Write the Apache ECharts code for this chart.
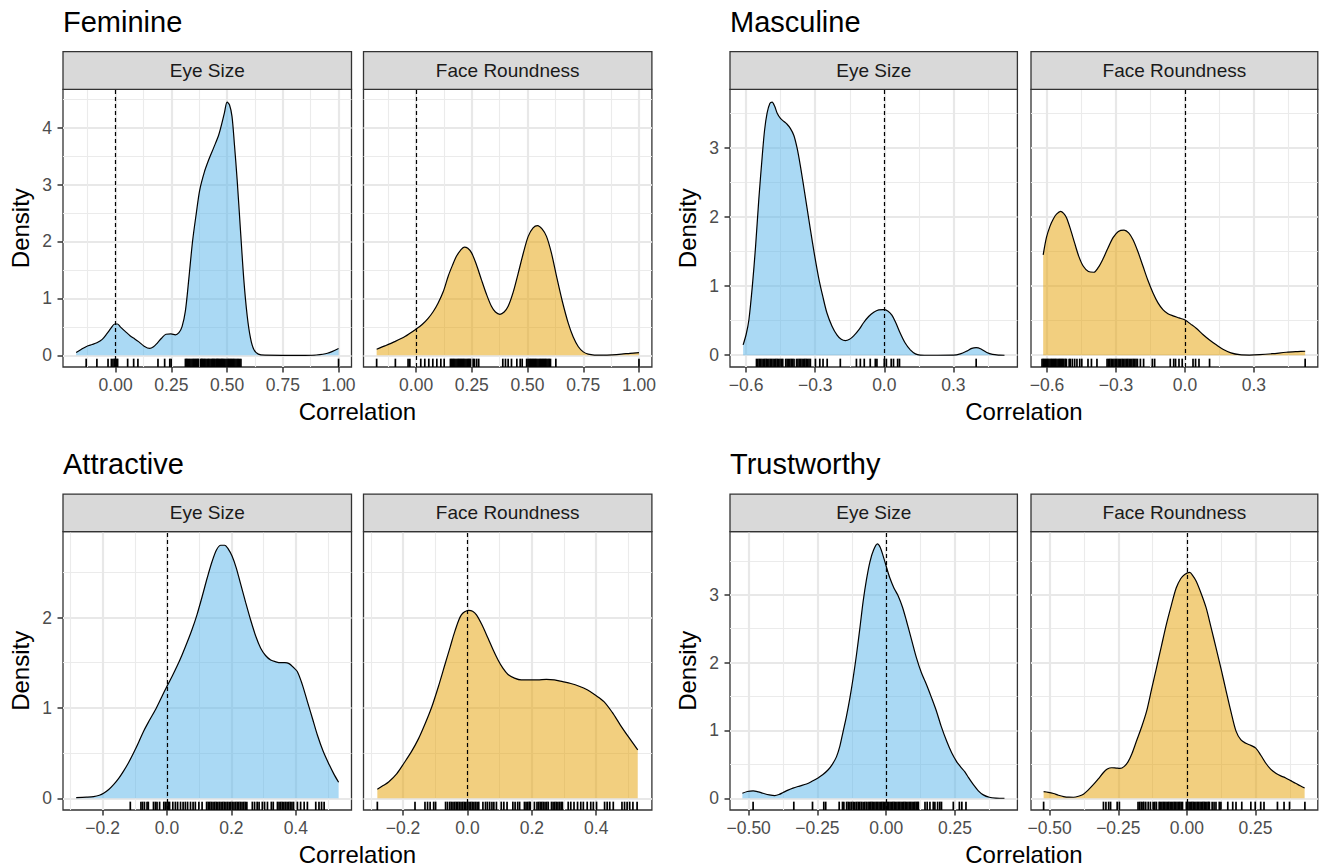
<!DOCTYPE html>
<html><head><meta charset="utf-8">
<script src="https://cdn.jsdelivr.net/npm/echarts@6/dist/echarts.min.js"></script>
<style>html,body{margin:0;padding:0;background:#fff}#c{width:1322px;height:867px}</style>
</head><body><div id="c"></div>
<script>
// ---------------- DATA ----------------
const traits = ['Feminine', 'Masculine', 'Attractive', 'Trustworthy'];
const facets = ['Eye Size', 'Face Roundness'];

// density curves [correlation, density]
const feminineEyeSizeCurve = [[-0.177,0.047],[-0.155,0.1],[-0.129,0.16],[-0.105,0.19],[-0.084,0.22],[-0.06,0.28],[-0.039,0.38],[-0.02,0.48],[-0.004,0.55],[0.008,0.55],[0.021,0.50],[0.043,0.42],[0.066,0.34],[0.085,0.29],[0.103,0.24],[0.128,0.16],[0.153,0.12],[0.17,0.15],[0.186,0.21],[0.206,0.30],[0.226,0.37],[0.248,0.375],[0.268,0.36],[0.284,0.4],[0.298,0.505],[0.313,0.78],[0.328,1.33],[0.345,2.0],[0.362,2.5],[0.377,2.9],[0.398,3.22],[0.418,3.44],[0.44,3.65],[0.463,3.88],[0.488,4.26],[0.5,4.45],[0.511,4.4],[0.522,4.2],[0.533,3.7],[0.545,3.09],[0.56,2.2],[0.575,1.33],[0.59,0.7],[0.605,0.3],[0.62,0.1],[0.64,0.02],[0.67,0.002],[0.75,0],[0.85,0],[0.9,0.005],[0.95,0.035],[1.0,0.12]];
const feminineFaceRoundnessCurve = [[-0.177,0.106],[-0.14,0.165],[-0.096,0.24],[-0.05,0.33],[0,0.46],[0.027,0.54],[0.054,0.65],[0.077,0.77],[0.099,0.92],[0.122,1.12],[0.144,1.39],[0.163,1.58],[0.181,1.74],[0.2,1.85],[0.216,1.90],[0.232,1.88],[0.249,1.80],[0.27,1.6],[0.293,1.33],[0.315,1.08],[0.338,0.86],[0.356,0.76],[0.376,0.72],[0.395,0.76],[0.413,0.86],[0.435,1.1],[0.458,1.44],[0.48,1.78],[0.503,2.09],[0.525,2.24],[0.545,2.28],[0.565,2.22],[0.585,2.09],[0.607,1.8],[0.63,1.39],[0.656,0.95],[0.683,0.56],[0.705,0.32],[0.728,0.15],[0.75,0.06],[0.772,0.02],[0.8,0.004],[0.84,0.002],[0.88,0.008],[0.922,0.02],[0.96,0.035],[1.0,0.047]];
const masculineEyeSizeCurve = [[-0.613,0.15],[-0.6,0.3],[-0.588,0.51],[-0.573,1.0],[-0.559,1.57],[-0.545,2.25],[-0.53,2.88],[-0.52,3.25],[-0.509,3.5],[-0.497,3.64],[-0.487,3.66],[-0.476,3.6],[-0.465,3.5],[-0.45,3.42],[-0.436,3.38],[-0.422,3.34],[-0.408,3.28],[-0.393,3.18],[-0.379,3.0],[-0.365,2.75],[-0.35,2.44],[-0.335,2.12],[-0.321,1.82],[-0.303,1.45],[-0.285,1.12],[-0.267,0.85],[-0.249,0.61],[-0.227,0.42],[-0.205,0.29],[-0.187,0.23],[-0.169,0.21],[-0.151,0.23],[-0.133,0.28],[-0.11,0.37],[-0.09,0.47],[-0.068,0.56],[-0.046,0.62],[-0.024,0.655],[-0.003,0.66],[0.015,0.64],[0.033,0.58],[0.05,0.47],[0.069,0.32],[0.09,0.18],[0.113,0.077],[0.135,0.02],[0.156,0.003],[0.2,0],[0.3,0.002],[0.33,0.02],[0.358,0.06],[0.38,0.1],[0.399,0.11],[0.42,0.09],[0.445,0.04],[0.47,0.012],[0.5,0.002],[0.522,0]];
const masculineFaceRoundnessCurve = [[-0.617,1.45],[-0.603,1.7],[-0.588,1.86],[-0.573,1.97],[-0.559,2.04],[-0.541,2.08],[-0.528,2.05],[-0.516,1.99],[-0.498,1.82],[-0.48,1.62],[-0.462,1.43],[-0.443,1.29],[-0.42,1.21],[-0.397,1.2],[-0.377,1.27],[-0.357,1.39],[-0.335,1.55],[-0.313,1.7],[-0.29,1.79],[-0.265,1.81],[-0.245,1.77],[-0.226,1.67],[-0.205,1.5],[-0.183,1.29],[-0.161,1.08],[-0.139,0.9],[-0.118,0.76],[-0.096,0.66],[-0.074,0.6],[-0.052,0.57],[-0.026,0.54],[0,0.51],[0.025,0.45],[0.049,0.39],[0.078,0.3],[0.107,0.22],[0.136,0.15],[0.165,0.087],[0.2,0.035],[0.238,0.008],[0.28,0.003],[0.325,0.008],[0.38,0.022],[0.441,0.043],[0.49,0.053],[0.523,0.058]];
const attractiveEyeSizeCurve = [[-0.282,0.007],[-0.25,0.012],[-0.228,0.018],[-0.21,0.033],[-0.197,0.055],[-0.18,0.1],[-0.166,0.15],[-0.15,0.22],[-0.135,0.30],[-0.12,0.39],[-0.104,0.50],[-0.088,0.62],[-0.073,0.74],[-0.055,0.86],[-0.036,0.98],[-0.018,1.11],[0,1.24],[0.016,1.35],[0.031,1.46],[0.046,1.58],[0.062,1.72],[0.078,1.87],[0.093,2.03],[0.109,2.23],[0.125,2.44],[0.14,2.62],[0.154,2.75],[0.167,2.8],[0.179,2.8],[0.19,2.76],[0.202,2.68],[0.215,2.55],[0.228,2.38],[0.244,2.17],[0.26,1.97],[0.276,1.79],[0.291,1.66],[0.306,1.58],[0.322,1.53],[0.338,1.51],[0.353,1.5],[0.366,1.5],[0.379,1.49],[0.392,1.45],[0.405,1.40],[0.42,1.26],[0.436,1.07],[0.452,0.88],[0.467,0.70],[0.485,0.52],[0.504,0.37],[0.518,0.27],[0.533,0.177]];
const attractiveFaceRoundnessCurve = [[-0.28,0.10],[-0.262,0.14],[-0.245,0.18],[-0.22,0.27],[-0.197,0.39],[-0.175,0.51],[-0.152,0.66],[-0.131,0.83],[-0.111,1.01],[-0.09,1.24],[-0.07,1.48],[-0.054,1.67],[-0.039,1.85],[-0.019,2.03],[0.004,2.08],[0.016,2.07],[0.028,2.03],[0.045,1.92],[0.064,1.77],[0.08,1.64],[0.095,1.53],[0.11,1.44],[0.126,1.37],[0.146,1.33],[0.167,1.31],[0.19,1.31],[0.218,1.31],[0.245,1.315],[0.27,1.31],[0.296,1.29],[0.321,1.27],[0.347,1.24],[0.372,1.20],[0.398,1.14],[0.424,1.07],[0.45,0.95],[0.475,0.81],[0.502,0.67],[0.529,0.535]];
const trustworthyEyeSizeCurve = [[-0.523,0.074],[-0.505,0.1],[-0.484,0.11],[-0.465,0.095],[-0.448,0.074],[-0.425,0.05],[-0.405,0.04],[-0.39,0.055],[-0.375,0.084],[-0.357,0.12],[-0.339,0.15],[-0.315,0.18],[-0.29,0.21],[-0.27,0.25],[-0.248,0.30],[-0.23,0.35],[-0.211,0.42],[-0.196,0.5],[-0.181,0.61],[-0.169,0.76],[-0.157,0.98],[-0.145,1.2],[-0.132,1.48],[-0.12,1.78],[-0.108,2.12],[-0.096,2.5],[-0.084,2.90],[-0.072,3.22],[-0.059,3.49],[-0.046,3.66],[-0.032,3.75],[-0.022,3.7],[-0.011,3.57],[0.0,3.42],[0.013,3.25],[0.028,3.1],[0.044,2.98],[0.059,2.82],[0.074,2.61],[0.092,2.34],[0.11,2.07],[0.128,1.85],[0.147,1.67],[0.165,1.48],[0.183,1.28],[0.2,1.06],[0.22,0.84],[0.238,0.67],[0.256,0.54],[0.271,0.46],[0.286,0.39],[0.3,0.3],[0.317,0.20],[0.335,0.11],[0.353,0.05],[0.375,0.015],[0.4,0.003],[0.43,0]];
const trustworthyFaceRoundnessCurve = [[-0.522,0.098],[-0.505,0.088],[-0.486,0.07],[-0.468,0.045],[-0.449,0.025],[-0.43,0.016],[-0.413,0.015],[-0.395,0.03],[-0.377,0.06],[-0.36,0.12],[-0.341,0.20],[-0.322,0.29],[-0.304,0.38],[-0.29,0.43],[-0.274,0.45],[-0.258,0.445],[-0.244,0.44],[-0.228,0.47],[-0.214,0.54],[-0.2,0.66],[-0.184,0.84],[-0.165,1.05],[-0.147,1.28],[-0.129,1.6],[-0.111,1.92],[-0.093,2.24],[-0.075,2.56],[-0.057,2.84],[-0.039,3.10],[-0.022,3.24],[-0.008,3.30],[0.01,3.33],[0.022,3.28],[0.034,3.20],[0.052,3.02],[0.07,2.81],[0.088,2.52],[0.106,2.22],[0.125,1.9],[0.143,1.58],[0.161,1.27],[0.179,0.99],[0.197,0.86],[0.215,0.81],[0.233,0.78],[0.251,0.74],[0.27,0.63],[0.287,0.52],[0.305,0.43],[0.324,0.37],[0.342,0.33],[0.36,0.30],[0.378,0.26],[0.396,0.22],[0.413,0.185],[0.429,0.15]];

// rug (individual correlations)
const feminineEyeSizeRug = [-0.132,-0.084,-0.034,-0.019,-0.012,-0.006,-0.002,0.004,0.009,0.054,0.081,0.100,0.190,0.220,0.243,0.249,0.313,0.318,0.322,0.328,0.333,0.338,0.343,0.348,0.353,0.358,0.363,0.368,0.372,0.382,0.386,0.39,0.395,0.40,0.405,0.41,0.414,0.418,0.423,0.428,0.432,0.436,0.44,0.445,0.45,0.454,0.458,0.462,0.467,0.472,0.476,0.48,0.485,0.49,0.495,0.50,0.505,0.51,0.515,0.52,0.525,0.53,0.535,0.54,0.545,0.55,0.556,0.562,1.0];
const feminineFaceRoundnessRug = [-0.177,-0.093,-0.036,-0.028,0.021,0.039,0.057,0.075,0.093,0.111,0.126,0.154,0.159,0.164,0.169,0.174,0.179,0.184,0.189,0.194,0.199,0.204,0.209,0.214,0.219,0.224,0.229,0.234,0.239,0.244,0.256,0.262,0.272,0.281,0.389,0.401,0.413,0.428,0.452,0.467,0.476,0.496,0.502,0.507,0.512,0.517,0.522,0.527,0.532,0.537,0.542,0.547,0.552,0.557,0.562,0.567,0.572,0.577,0.582,0.587,0.592,0.597,0.603,0.627,1.0];
const masculineEyeSizeRug = [-0.555,-0.549,-0.543,-0.537,-0.531,-0.525,-0.519,-0.513,-0.507,-0.501,-0.495,-0.489,-0.483,-0.477,-0.471,-0.465,-0.459,-0.453,-0.447,-0.441,-0.428,-0.422,-0.416,-0.410,-0.404,-0.398,-0.392,-0.381,-0.375,-0.369,-0.363,-0.357,-0.351,-0.345,-0.339,-0.333,-0.327,-0.321,-0.299,-0.28,-0.266,-0.248,-0.191,-0.121,-0.104,-0.087,-0.061,-0.039,-0.032,0.0,0.009,0.03,0.04,0.058,0.066,0.399];
const masculineFaceRoundnessRug = [-0.622,-0.617,-0.612,-0.607,-0.602,-0.597,-0.592,-0.587,-0.582,-0.577,-0.572,-0.567,-0.562,-0.557,-0.552,-0.547,-0.542,-0.537,-0.532,-0.527,-0.521,-0.516,-0.504,-0.499,-0.49,-0.48,-0.47,-0.458,-0.449,-0.422,-0.407,-0.383,-0.339,-0.333,-0.327,-0.321,-0.315,-0.309,-0.303,-0.297,-0.291,-0.285,-0.279,-0.273,-0.267,-0.261,-0.255,-0.249,-0.243,-0.237,-0.231,-0.225,-0.219,-0.213,-0.207,-0.194,-0.18,-0.142,-0.132,-0.064,-0.049,-0.041,-0.026,-0.012,0.035,0.046,0.061,0.107,0.523];
const attractiveEyeSizeRug = [-0.114,-0.081,-0.076,-0.07,-0.062,-0.058,-0.042,-0.036,-0.031,-0.023,-0.01,-0.005,0.0,0.004,0.008,0.018,0.026,0.033,0.042,0.05,0.057,0.064,0.073,0.081,0.088,0.099,0.109,0.123,0.128,0.133,0.138,0.143,0.148,0.153,0.158,0.163,0.168,0.173,0.178,0.183,0.188,0.193,0.198,0.203,0.208,0.213,0.218,0.223,0.228,0.233,0.238,0.243,0.248,0.265,0.272,0.28,0.286,0.296,0.303,0.312,0.324,0.33,0.343,0.348,0.353,0.358,0.363,0.368,0.373,0.378,0.383,0.388,0.393,0.405,0.415,0.426,0.436,0.462,0.472,0.48,0.488];
const attractiveFaceRoundnessRug = [-0.28,-0.163,-0.132,-0.124,-0.116,-0.105,-0.099,-0.068,-0.062,-0.055,-0.05,-0.045,-0.04,-0.035,-0.03,-0.025,-0.02,-0.015,-0.01,-0.005,0,0.005,0.01,0.015,0.02,0.025,0.03,0.035,0.048,0.056,0.062,0.069,0.076,0.082,0.09,0.105,0.113,0.123,0.141,0.148,0.156,0.162,0.177,0.182,0.187,0.192,0.195,0.208,0.216,0.221,0.226,0.231,0.236,0.241,0.246,0.251,0.261,0.266,0.271,0.276,0.281,0.286,0.291,0.295,0.313,0.321,0.331,0.342,0.352,0.36,0.372,0.383,0.391,0.401,0.426,0.434,0.442,0.453,0.48,0.488,0.496,0.504,0.514,0.527];
const trustworthyEyeSizeRug = [-0.484,-0.336,-0.268,-0.227,-0.22,-0.171,-0.159,-0.154,-0.144,-0.138,-0.132,-0.126,-0.12,-0.114,-0.108,-0.102,-0.096,-0.09,-0.084,-0.078,-0.072,-0.066,-0.061,-0.056,-0.051,-0.046,-0.041,-0.036,-0.031,-0.026,-0.021,-0.016,-0.011,-0.006,-0.001,0.004,0.009,0.014,0.019,0.024,0.029,0.034,0.039,0.044,0.049,0.054,0.059,0.064,0.069,0.074,0.079,0.084,0.089,0.094,0.099,0.104,0.109,0.114,0.117,0.141,0.149,0.159,0.171,0.177,0.187,0.195,0.201,0.244,0.266,0.275,0.29];
const trustworthyFaceRoundnessRug = [-0.522,-0.304,-0.295,-0.285,-0.278,-0.254,-0.246,-0.178,-0.172,-0.166,-0.16,-0.157,-0.15,-0.141,-0.133,-0.123,-0.117,-0.111,-0.101,-0.096,-0.091,-0.086,-0.081,-0.076,-0.071,-0.066,-0.061,-0.056,-0.051,-0.046,-0.041,-0.036,-0.031,-0.026,-0.021,-0.016,-0.002,0.003,0.008,0.013,0.018,0.023,0.028,0.033,0.038,0.043,0.048,0.053,0.058,0.063,0.068,0.073,0.078,0.082,0.092,0.099,0.106,0.118,0.124,0.149,0.167,0.179,0.2,0.233,0.249,0.269,0.281,0.33,0.354,0.374,0.43];

// tick values and labels
const feminineXTicks = [0, 0.25, 0.5, 0.75, 1];
const feminineXLabels = ['0.00', '0.25', '0.50', '0.75', '1.00'];
const feminineXMinor = [-0.125, 0.125, 0.375, 0.625, 0.875];
const feminineYTicks = [0, 1, 2, 3, 4];
const feminineYLabels = ['0', '1', '2', '3', '4'];
const feminineYMinor = [0.5, 1.5, 2.5, 3.5, 4.5];
const masculineXTicks = [-0.6, -0.3, 0, 0.3];
const masculineXLabels = ['\u22120.6', '\u22120.3', '0.0', '0.3'];
const masculineXMinor = [-0.45, -0.15, 0.15, 0.45];
const masculineYTicks = [0, 1, 2, 3];
const masculineYLabels = ['0', '1', '2', '3'];
const masculineYMinor = [0.5, 1.5, 2.5, 3.5];
const attractiveXTicks = [-0.2, 0, 0.2, 0.4];
const attractiveXLabels = ['\u22120.2', '0.0', '0.2', '0.4'];
const attractiveXMinor = [-0.3, -0.1, 0.1, 0.3, 0.5];
const attractiveYTicks = [0, 1, 2];
const attractiveYLabels = ['0', '1', '2'];
const attractiveYMinor = [0.5, 1.5, 2.5];
const trustworthyXTicks = [-0.5, -0.25, 0, 0.25];
const trustworthyXLabels = ['\u22120.50', '\u22120.25', '0.00', '0.25'];
const trustworthyXMinor = [-0.375, -0.125, 0.125, 0.375];
const trustworthyYTicks = [0, 1, 2, 3];
const trustworthyYLabels = ['0', '1', '2', '3'];
const trustworthyYMinor = [0.5, 1.5, 2.5, 3.5];

// ---------------- LAYOUT / STYLE ----------------
const FONT = '"Liberation Sans", Arial, Helvetica, sans-serif';
const BLUE = 'rgba(86,180,233,0.5)';
const GOLD = 'rgba(230,159,0,0.5)';
const STRIP_H = 37.6;
const COLS = [{left: 63, width: 288.5}, {left: 363.5, width: 288.4}, {left: 730, width: 287.4}, {left: 1031, width: 286.8}];
const ROWS = [{top: 89.3, height: 277.7}, {top: 531.7, height: 278.3}];

const traitScales = [
  {xMin: -0.236, xMax: 1.058, yMin: -0.206, yMax: 4.675, xT: feminineXTicks, xL: feminineXLabels, xM: feminineXMinor, yT: feminineYTicks, yL: feminineYLabels, yM: feminineYMinor},
  {xMin: -0.670, xMax: 0.578, yMin: -0.17, yMax: 3.845, xT: masculineXTicks, xL: masculineXLabels, xM: masculineXMinor, yT: masculineYTicks, yL: masculineYLabels, yM: masculineYMinor},
  {xMin: -0.323, xMax: 0.573, yMin: -0.13, yMax: 2.95, xT: attractiveXTicks, xL: attractiveXLabels, xM: attractiveXMinor, yT: attractiveYTicks, yL: attractiveYLabels, yM: attractiveYMinor},
  {xMin: -0.568, xMax: 0.477, yMin: -0.173, yMax: 3.93, xT: trustworthyXTicks, xL: trustworthyXLabels, xM: trustworthyXMinor, yT: trustworthyYTicks, yL: trustworthyYLabels, yM: trustworthyYMinor}
];
const curves = [
  [feminineEyeSizeCurve, feminineFaceRoundnessCurve],
  [masculineEyeSizeCurve, masculineFaceRoundnessCurve],
  [attractiveEyeSizeCurve, attractiveFaceRoundnessCurve],
  [trustworthyEyeSizeCurve, trustworthyFaceRoundnessCurve]
];
const rugs = [
  [feminineEyeSizeRug, feminineFaceRoundnessRug],
  [masculineEyeSizeRug, masculineFaceRoundnessRug],
  [attractiveEyeSizeRug, attractiveFaceRoundnessRug],
  [trustworthyEyeSizeRug, trustworthyFaceRoundnessRug]
];

function lab(ticks, labels) {
  return function (v) {
    const i = ticks.findIndex(t => Math.abs(t - v) < 1e-9);
    return i >= 0 ? labels[i] : '';
  };
}

const grid = [], xAxis = [], yAxis = [], series = [], graphic = [];
let gi = 0;
traits.forEach((trait, ti) => {
  const s = traitScales[ti];
  const row = ROWS[Math.floor(ti / 2)];
  const cLeft = COLS[(ti % 2) * 2], cRight = COLS[(ti % 2) * 2 + 1];
  facets.forEach((facet, fi) => {
    const col = fi === 0 ? cLeft : cRight;
    grid.push({left: col.left, top: row.top, width: col.width, height: row.height, show: true,
      borderColor: '#333333', borderWidth: 1.3, backgroundColor: 'transparent', containLabel: false, outerBoundsMode: 'none'});
    // major x axis
    xAxis.push({gridIndex: gi, type: 'value', min: s.xMin, max: s.xMax, position: 'bottom',
      axisLine: {show: false, onZero: false},
      axisTick: {show: true, length: 5.5, lineStyle: {color: '#333333', width: 1.5}, customValues: s.xT},
      axisLabel: {show: true, customValues: s.xT, margin: 9, color: '#4D4D4D', fontSize: 17.5, fontFamily: FONT, formatter: lab(s.xT, s.xL)},
      splitLine: {show: true, lineStyle: {color: '#E8E8E8', width: 2.2}}});
    // minor x axis
    xAxis.push({gridIndex: gi, type: 'value', min: s.xMin, max: s.xMax, position: 'top',
      axisLine: {show: false, onZero: false}, axisTick: {show: false, customValues: s.xM}, axisLabel: {show: false},
      splitLine: {show: true, lineStyle: {color: '#EBEBEB', width: 1.1}}});
    yAxis.push({gridIndex: gi, type: 'value', min: s.yMin, max: s.yMax, position: 'left',
      axisLine: {show: false, onZero: false},
      axisTick: {show: fi === 0, length: 5.5, lineStyle: {color: '#333333', width: 1.5}, customValues: s.yT},
      axisLabel: {show: fi === 0, customValues: s.yT, margin: 11, color: '#4D4D4D', fontSize: 17.5, fontFamily: FONT, formatter: lab(s.yT, s.yL)},
      splitLine: {show: true, lineStyle: {color: '#E8E8E8', width: 2.2}}});
    yAxis.push({gridIndex: gi, type: 'value', min: s.yMin, max: s.yMax, position: 'right',
      axisLine: {show: false, onZero: false}, axisTick: {show: false, customValues: s.yM}, axisLabel: {show: false},
      splitLine: {show: true, lineStyle: {color: '#EBEBEB', width: 1.1}}});

    series.push({type: 'line', xAxisIndex: gi * 2, yAxisIndex: gi * 2, data: curves[ti][fi],
      smooth: 0.3, showSymbol: false, symbol: 'none', silent: true, z: 2,
      lineStyle: {color: '#000000', width: 1.2},
      areaStyle: {color: fi === 0 ? BLUE : GOLD, opacity: 1, origin: 0},
      markLine: {silent: true, symbol: ['none', 'none'], label: {show: false}, animation: false,
        lineStyle: {color: '#000000', type: [4, 3], width: 1.2}, data: [{xAxis: 0}]}});
    series.push({type: 'custom', xAxisIndex: gi * 2, yAxisIndex: gi * 2, silent: true, z: 3,
      data: rugs[ti][fi].map(v => [v, 0]), encode: {x: 0, y: 1},
      renderItem: function (params, api) {
        const x = api.coord([api.value(0), 0])[0];
        const cs = params.coordSys;
        const yb = cs.y + cs.height;
        return {type: 'line', shape: {x1: x, y1: yb, x2: x, y2: yb - 0.03 * cs.height},
          style: {stroke: '#000000', lineWidth: 1.7}};
      }});

    // strip
    graphic.push({type: 'rect', shape: {x: col.left, y: row.top - STRIP_H, width: col.width, height: STRIP_H},
      style: {fill: '#D9D9D9', stroke: '#333333', lineWidth: 1.3}, z: 10});
    graphic.push({type: 'text', x: col.left + col.width / 2, y: row.top - STRIP_H / 2, z: 11,
      style: {text: facet, font: '19px ' + FONT, fill: '#1A1A1A', textAlign: 'center', textVerticalAlign: 'middle'}});
    gi++;
  });
  // trait title
  graphic.push({type: 'text', x: cLeft.left, y: row.top - STRIP_H - 30, z: 11,
    style: {text: trait, font: '29px ' + FONT, fill: '#000000', textAlign: 'left', textVerticalAlign: 'middle'}});
  // y title
  graphic.push({type: 'text', x: cLeft.left - 43, y: row.top + row.height / 2, rotation: Math.PI / 2, z: 11,
    style: {text: 'Density', font: '24px ' + FONT, fill: '#000000', textAlign: 'center', textVerticalAlign: 'middle'}});
  // x title
  graphic.push({type: 'text', x: (cLeft.left + cRight.left + cRight.width) / 2, y: row.top + row.height + 44, z: 11,
    style: {text: 'Correlation', font: '24px ' + FONT, fill: '#000000', textAlign: 'center', textVerticalAlign: 'middle'}});
});

const chart = echarts.init(document.getElementById('c'), null, {renderer: 'svg'});
chart.setOption({
  animation: false,
  backgroundColor: '#ffffff',
  textStyle: {fontFamily: FONT},
  grid, xAxis, yAxis, series, graphic
});
</script></body></html>
